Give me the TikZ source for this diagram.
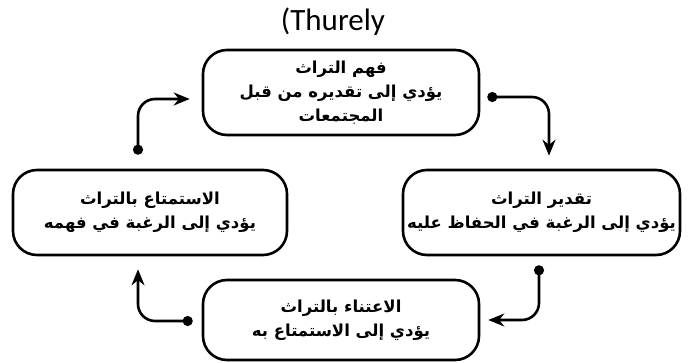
\documentclass[tikz,border=0pt]{standalone}
\usepackage{fontspec}
\setmainfont{Carlito}
\newfontfamily\arabicfont[Script=Arabic]{DejaVu Sans}
\TeXXeTstate=1
\usetikzlibrary{arrows.meta}
\newcommand\ar[1]{\beginR#1\endR}
\begin{document}
\begin{tikzpicture}[x=1pt,y=-1pt,>={Stealth[length=16pt,width=13pt]},
  stage/.style={draw,line width=2.6pt,rounded corners=24pt,align=center,
    font=\arabicfont\bfseries\fontsize{16.5}{24}\selectfont,
    minimum width=276pt,minimum height=85pt,inner sep=0pt},
  link/.style={line width=2.6pt,rounded corners=17pt,{Circle[length=10pt]}->}]
\useasboundingbox (0,0) rectangle (692,363);
\node[font=\fontsize{31}{36}\selectfont] (title) at (333,22) {(Thurely};
\node[stage] (fahm) at (341,92.5) {\ar{فهم التراث}\\ \ar{يؤدي إلى تقديره من قبل}\\ \ar{المجتمعات}};
\node[stage,minimum width=277pt] (taqdir) at (541.5,212.5) {\ar{تقدير التراث}\\ \ar{يؤدي إلى الرغبة في الحفاظ عليه}};
\node[stage,minimum height=80pt] (itina) at (341,320) {\ar{الاعتناء بالتراث}\\ \ar{يؤدي إلى الاستمتاع به}};
\node[stage,minimum width=274pt] (istimta) at (150,212.5) {\ar{الاستمتاع بالتراث}\\ \ar{يؤدي إلى الرغبة في فهمه}};
% cycle
\draw[link] ([xshift=7pt,yshift=-4.5pt]fahm.east) -| ([xshift=7.5pt,yshift=13pt]taqdir.north);
\draw[link] ([xshift=-2.5pt,yshift=-9pt]taqdir.south) |- ([xshift=8pt]itina.east);
\draw[link] ([xshift=-9pt,yshift=-1pt]itina.west) -| ([xshift=-12pt,yshift=-13pt]istimta.south);
\draw[link] ([xshift=-12pt,yshift=14pt]istimta.north) |- ([xshift=-12pt,yshift=-6.5pt]fahm.west);
\end{tikzpicture}
\end{document}
